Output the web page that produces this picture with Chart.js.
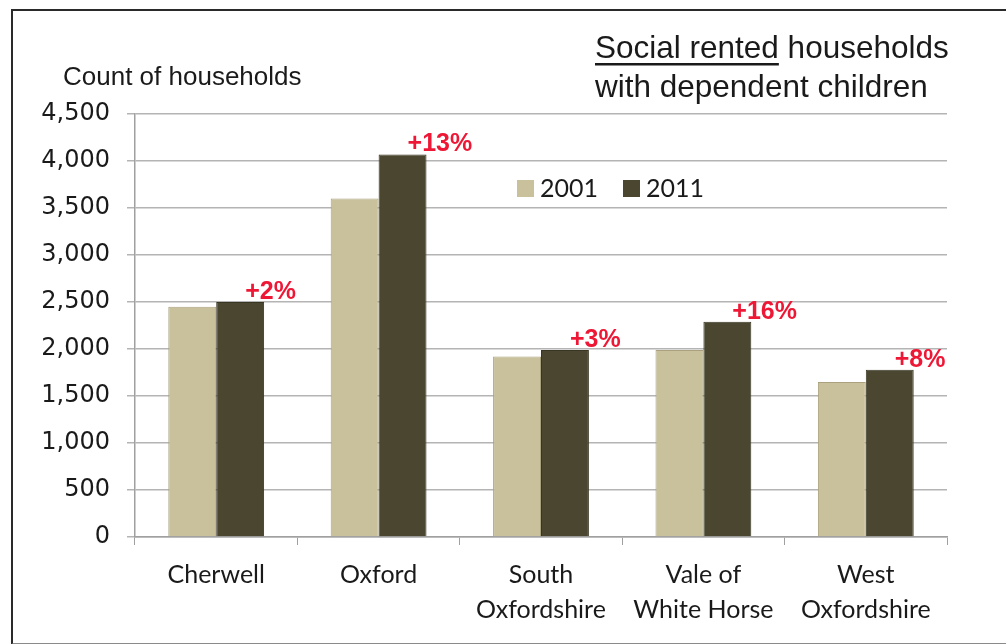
<!DOCTYPE html>
<html>
<head>
<meta charset="utf-8">
<script src="https://cdn.jsdelivr.net/npm/chart.js@4.4.1/dist/chart.umd.min.js"></script>
<style>
  html, body { margin: 0; padding: 0; background: #ffffff; }
  #wrap { position: relative; width: 1006px; height: 644px; overflow: hidden; }
  #frame { position: absolute; left: 11px; top: 9px; width: 1100px; height: 632px;
           border-top: 2px solid #2a2a2a; border-left: 2px solid #2a2a2a; border-bottom: 2px solid #8a8a8a; }
  canvas { position: absolute; left: 0; top: 0; }
</style>
</head>
<body>
<div id="wrap">
  <div id="frame"></div>
  <canvas id="c" width="1006" height="644"></canvas>
</div>
<script>
const categories = [["Cherwell"], ["Oxford"], ["South", "Oxfordshire"], ["Vale of", "White Horse"], ["West", "Oxfordshire"]];
const values2001 = [2450, 3600, 1920, 1990, 1650];
const values2011 = [2500, 4070, 1990, 2290, 1780];
const changeLabels = ["+2%", "+13%", "+3%", "+16%", "+8%"];
const seriesNames = ["2001", "2011"];
const yTicks = [0, 500, 1000, 1500, 2000, 2500, 3000, 3500, 4000, 4500];

const colorLight = "#c9c19b";
const colorDark = "#4a4630";

const overlay = {
  id: "overlay",
  afterDatasetsDraw(chart) {
    const ctx = chart.ctx;
    const meta = chart.getDatasetMeta(1);
    ctx.save();
    ctx.fillStyle = "#ee1836";
    ctx.font = "bold 25px 'Liberation Sans', Arial, sans-serif";
    ctx.textAlign = "left";
    ctx.textBaseline = "alphabetic";
    meta.data.forEach((bar, i) => {
      ctx.fillText(changeLabels[i], bar.x + 5, bar.y - 3);
    });
    ctx.restore();
  },
  afterDraw(chart) {
    const ctx = chart.ctx;
    ctx.save();
    ctx.fillStyle = "#1a1a1a";
    ctx.font = "26px 'Liberation Sans', Arial, sans-serif";
    ctx.textBaseline = "alphabetic";
    ctx.textAlign = "left";
    ctx.fillText("Count of households", 63, 85);
    ctx.font = "31.5px 'Liberation Sans', Arial, sans-serif";
    const t1a = "Social rented";
    const t1b = " households";
    const x0 = 595;
    ctx.fillText(t1a, x0, 58);
    const wA = ctx.measureText(t1a).width;
    ctx.fillText(t1b, x0 + wA, 58);
    ctx.fillRect(x0, 63, wA, 2.5);
    ctx.fillText("with dependent children", x0, 97);
    ctx.font = "25px Lato, sans-serif";
    ctx.textBaseline = "middle";
    const ly = 188;
    const items = [
      { name: seriesNames[0], color: colorLight, x: 517 },
      { name: seriesNames[1], color: colorDark, x: 623 }
    ];
    items.forEach(it => {
      ctx.fillStyle = it.color;
      ctx.fillRect(it.x, ly - 8, 17, 17);
      ctx.fillStyle = "#1a1a1a";
      ctx.fillText(it.name, it.x + 23, ly + 1);
    });
    ctx.restore();
  }
};

new Chart(document.getElementById("c"), {
  type: "bar",
  data: {
    labels: categories,
    datasets: [
      { label: seriesNames[0], data: values2001, backgroundColor: colorLight, borderColor: "#aaa27e", borderWidth: 1,
        categoryPercentage: 0.59, barPercentage: 1.0 },
      { label: seriesNames[1], data: values2011, backgroundColor: colorDark, borderColor: "#383623", borderWidth: 1,
        categoryPercentage: 0.59, barPercentage: 1.0 }
    ]
  },
  options: {
    responsive: false,
    animation: false,
    devicePixelRatio: 1,
    layout: { padding: { left: 0, right: 59, top: 114, bottom: 0 } },
    plugins: { legend: { display: false }, tooltip: { enabled: false }, title: { display: false } },
    scales: {
      x: {
        grid: { display: true, drawOnChartArea: false, drawTicks: true, tickLength: 8, color: "#a0a0a0", offset: true },
        border: { display: true, color: "#a0a0a0", width: 1.5 },
        ticks: { color: "#1a1a1a", font: { family: "Lato, sans-serif", size: 25, lineHeight: 1.38 }, padding: 13, maxRotation: 0, autoSkip: false },
        afterFit(scale) { scale.height = 644 - 537; }
      },
      y: {
        min: 0, max: 4500,
        afterBuildTicks(scale) { scale.ticks = yTicks.map(v => ({ value: v })); },
        grid: { color: "#b4b4b4", lineWidth: 1.5, drawTicks: true, tickLength: 8 },
        border: { display: true, color: "#a0a0a0", width: 1.5 },
        ticks: {
          color: "#1a1a1a",
          font: { family: "'DejaVu Sans', sans-serif", size: 24 },
          padding: 17,
          callback: v => v.toLocaleString("en-US")
        },
        afterFit(scale) { scale.width = 135; }
      }
    }
  },
  plugins: [overlay]
});
</script>
</body>
</html>
